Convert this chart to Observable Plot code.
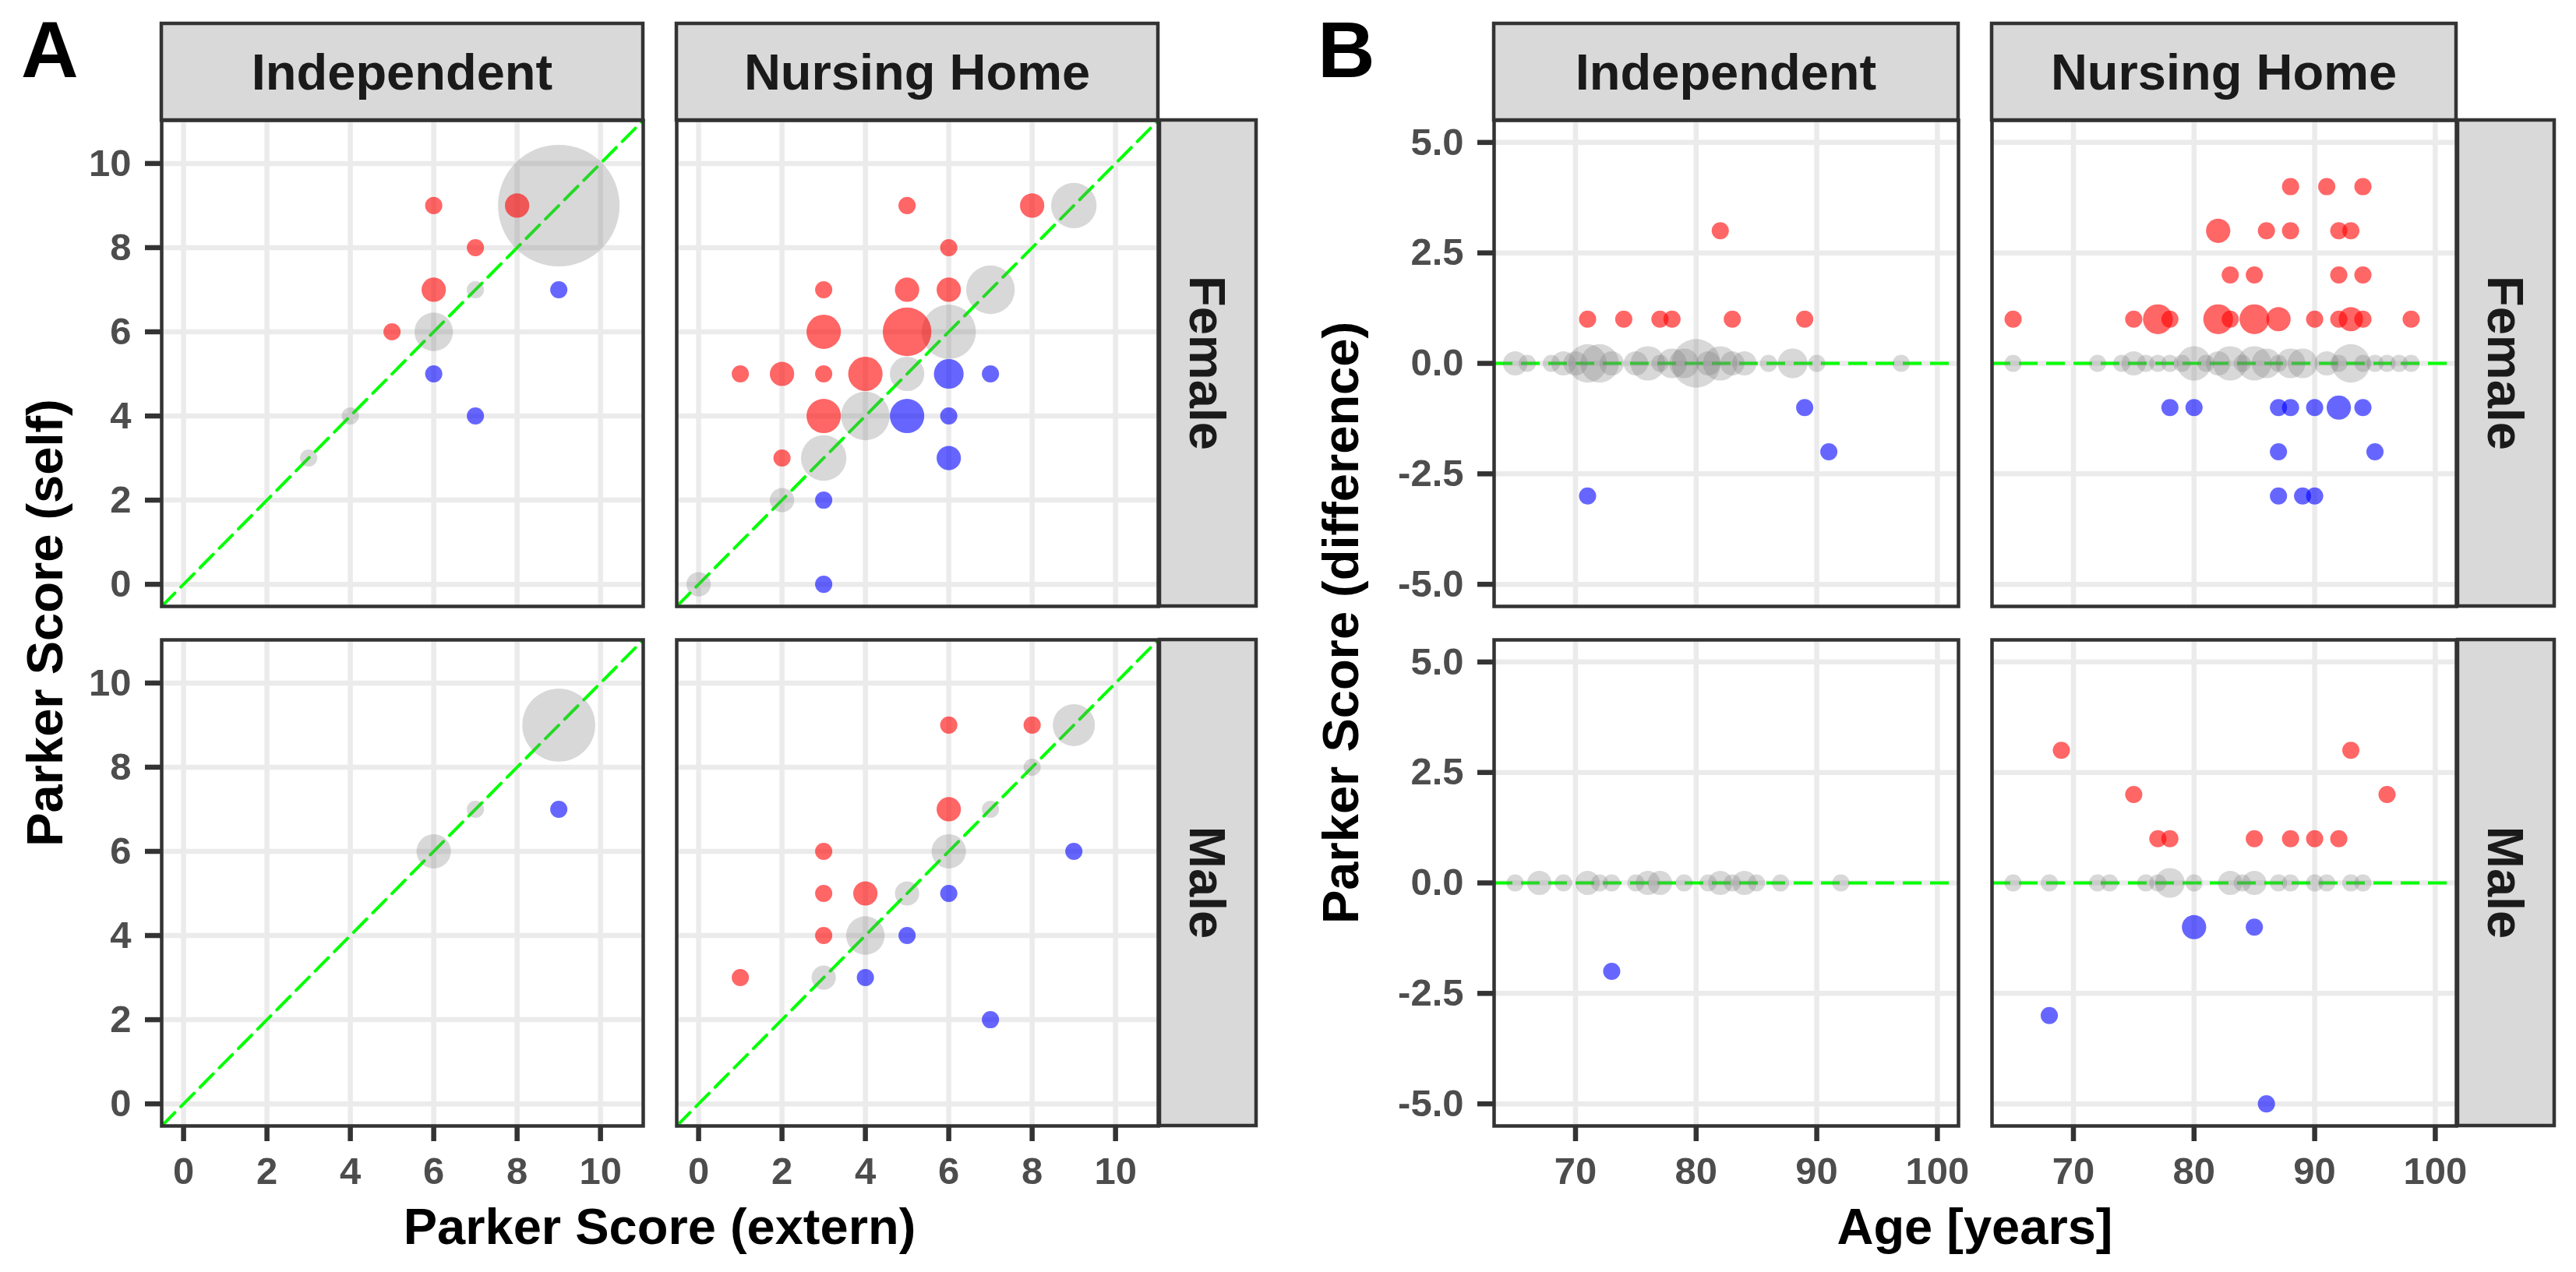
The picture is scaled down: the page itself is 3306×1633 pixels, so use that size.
<!DOCTYPE html>
<html>
<head>
<meta charset="utf-8">
<script src="https://cdn.jsdelivr.net/npm/d3@7"></script>
<script src="https://cdn.jsdelivr.net/npm/@observablehq/plot@0.6"></script>
<style>
  html, body { margin: 0; padding: 0; background: #ffffff; }
  #root { position: relative; width: 3306px; height: 1633px; overflow: hidden; background: #ffffff;
          font-family: "Liberation Sans", Arial, Helvetica, sans-serif; }
  #root svg { position: absolute; }
</style>
</head>
<body>
<div id="root"></div>
<script>
// ---------------- data ----------------
const settings = ["Independent", "Nursing Home"];
const sexes = ["Female", "Male"];
const panelLetters = ["A", "B"];
const titleSelf = "Parker Score (self)";
const titleExtern = "Parker Score (extern)";
const titleDiff = "Parker Score (difference)";
const titleAge = "Age [years]";

const scoreTicks = [0, 2, 4, 6, 8, 10];
const diffTicks = [-5, -2.5, 0, 2.5, 5];
const ageTicks = [70, 80, 90, 100];
const scoreDomain = [-0.525, 11.025];
const diffDomain = [-5.5, 5.5];
const ageDomain = [63.25, 101.75];

// Panel A: [extern score, self score, number of patients]
const aIndependentFemale = [[3,3,1],[4,4,1],[5,6,1],[6,6,5],[6,5,1],[6,7,2],[6,9,1],[7,7,1],[7,8,1],[7,4,1],[8,9,2],[9,9,50],[9,7,1]];
const aNursingFemale = [[0,0,2],[2,2,2],[3,0,1],[3,2,1],[2,3,1],[3,3,7],[3,4,4],[4,4,8],[5,4,4],[6,4,1],[6,3,2],
  [1,5,1],[2,5,2],[3,5,1],[4,5,4],[5,5,4],[6,5,3],[7,5,1],[3,6,4],[5,6,8],[6,6,10],[3,7,1],[5,7,2],[6,7,2],[7,7,8],
  [6,8,1],[5,9,1],[8,9,2],[9,9,7]];
const aIndependentMale = [[6,6,4],[7,7,1],[9,7,1],[9,9,18]];
const aNursingMale = [[1,3,1],[3,3,2],[4,3,1],[3,4,1],[4,4,5],[5,4,1],[3,5,1],[4,5,2],[5,5,2],[6,5,1],[3,6,1],
  [6,6,4],[9,6,1],[6,7,2],[7,7,1],[8,8,1],[6,9,1],[8,9,1],[9,9,6],[7,2,1]];

// Panel B: [age, self - extern, number of patients]
const bIndependentFemale = [[71,1,1],[74,1,1],[77,1,1],[78,1,1],[83,1,1],[89,1,1],[82,3,1],
  [89,-1,1],[91,-2,1],[71,-3,1],
  [65,0,2],[66,0,1],[68,0,1],[69,0,2],[70,0,2],[71,0,5],[72,0,5],[73,0,2],[75,0,2],[76,0,4],[77,0,1],[78,0,3],
  [79,0,3],[80,0,8],[81,0,2],[82,0,4],[83,0,2],[84,0,2],[86,0,1],[88,0,3],[90,0,1],[97,0,1]];
const bNursingFemale = [[88,4,1],[91,4,1],[94,4,1],
  [82,3,2],[86,3,1],[88,3,1],[92,3,1],[93,3,1],
  [83,2,1],[85,2,1],[92,2,1],[94,2,1],
  [65,1,1],[75,1,1],[77,1,3],[78,1,1],[82,1,3],[83,1,1],[85,1,3],[87,1,2],[90,1,1],[92,1,1],[93,1,2],[94,1,1],[98,1,1],
  [65,0,1],[72,0,1],[74,0,1],[75,0,2],[76,0,1],[77,0,1],[78,0,1],[79,0,1],[80,0,4],[81,0,1],[82,0,2],[83,0,4],
  [84,0,1],[85,0,4],[86,0,3],[87,0,1],[88,0,3],[89,0,3],[91,0,2],[92,0,1],[93,0,5],[94,0,1],[95,0,1],[96,0,1],
  [97,0,1],[98,0,1],
  [78,-1,1],[80,-1,1],[87,-1,1],[88,-1,1],[90,-1,1],[92,-1,2],[94,-1,1],
  [87,-2,1],[95,-2,1],
  [87,-3,1],[89,-3,1],[90,-3,1]];
const bIndependentMale = [[65,0,1],[67,0,2],[69,0,1],[71,0,2],[72,0,1],[73,0,1],[75,0,1],[76,0,2],[77,0,2],
  [79,0,1],[81,0,1],[82,0,2],[83,0,1],[84,0,2],[85,0,1],[87,0,1],[92,0,1],
  [73,-2,1]];
const bNursingMale = [[69,3,1],[93,3,1],[75,2,1],[96,2,1],[77,1,1],[78,1,1],[85,1,1],[88,1,1],[90,1,1],[92,1,1],
  [80,-1,2],[85,-1,1],[68,-3,1],[86,-5,1],
  [65,0,1],[68,0,1],[72,0,1],[73,0,1],[76,0,1],[77,0,1],[78,0,3],[80,0,1],[83,0,2],[84,0,1],[85,0,2],[87,0,1],
  [88,0,1],[90,0,1],[91,0,1],[93,0,1],[94,0,1]];

// ---------------- layout & style ----------------
const FONT = '"Liberation Sans", Arial, Helvetica, sans-serif';
const colA = [207, 868], wA = 618;
const colB = [1917, 2556], wB = 596;
const rowY = [154, 821], panelH = 624;
const stripTop = 30, stripH = 124, stripW = 124;
const gridStyle = {stroke: "#EBEBEB", strokeOpacity: 1, strokeWidth: 6.5};
const refStyle = {stroke: "#00FF00", strokeWidth: 4, strokeDasharray: "24,11"};
const tickColor = "#333333", labelColor = "#4D4D4D";

function colorFor(diff) {
  return diff > 0 ? "rgba(255,0,0,0.6)" : diff < 0 ? "rgba(0,0,255,0.6)" : "rgba(127,127,127,0.3)";
}

const root = document.getElementById("root");

function panel({data, kind, left, top, w, showY, showX}) {
  const isA = kind === "A";
  const xDomain = isA ? scoreDomain : ageDomain;
  const yDomain = isA ? scoreDomain : diffDomain;
  const xTicks = isA ? scoreTicks : ageTicks;
  const yTicks = isA ? scoreTicks : diffTicks;
  const yFmt = isA ? (d => String(d)) : (d => d.toFixed(1));
  const diffOf = isA ? (d => d[1] - d[0]) : (d => d[1]);
  const mL = showY ? 120 : 6, mB = showX ? 110 : 6, mT = 6, mR = 6;
  const marks = [
    Plot.gridX(xTicks, gridStyle),
    Plot.gridY(yTicks, gridStyle),
    isA ? Plot.line(scoreDomain, {x: d => d, y: d => d, ...refStyle})
        : Plot.ruleY([0], refStyle),
    Plot.dot(data, {x: d => d[0], y: d => d[1], r: d => d[2], fill: d => colorFor(diffOf(d)), stroke: "none"})
  ];
  if (showY) marks.push(Plot.axisY(yTicks, {tickSize: 21, tickPadding: 18, tickFormat: yFmt,
      stroke: tickColor, strokeWidth: 6.5, fill: labelColor, fontSize: 49, fontWeight: "bold", label: null}));
  if (showX) marks.push(Plot.axisX(xTicks, {anchor: "bottom", tickSize: 20, tickPadding: 20, tickFormat: d => String(d),
      stroke: tickColor, strokeWidth: 6.5, fill: labelColor, fontSize: 49, fontWeight: "bold", label: null}));
  marks.push(Plot.frame({stroke: "#333333", strokeWidth: 4.5}));
  const svg = Plot.plot({
    width: w + mL + mR, height: panelH + mT + mB,
    marginLeft: mL, marginRight: mR, marginTop: mT, marginBottom: mB,
    x: {domain: xDomain, axis: null},
    y: {domain: yDomain, axis: null},
    r: {type: "sqrt", domain: [0, 50], range: [0, 78]},
    color: {type: "identity"},
    style: {background: "transparent", fontFamily: FONT, fontSize: "49px", fontWeight: "bold", overflow: "visible"},
    marks
  });
  svg.style.position = "absolute";
  svg.style.left = (left - mL) + "px";
  svg.style.top = (top - mT) + "px";
  svg.style.maxWidth = "none";
  root.appendChild(svg);
}

const aData = [[aIndependentFemale, aNursingFemale], [aIndependentMale, aNursingMale]];
const bData = [[bIndependentFemale, bNursingFemale], [bIndependentMale, bNursingMale]];
for (let r = 0; r < 2; r++) {
  for (let c = 0; c < 2; c++) {
    panel({data: aData[r][c], kind: "A", left: colA[c], top: rowY[r], w: wA, showY: c === 0, showX: r === 1});
    panel({data: bData[r][c], kind: "B", left: colB[c], top: rowY[r], w: wB, showY: c === 0, showX: r === 1});
  }
}

// ---------------- strips, titles, letters ----------------
const ns = "http://www.w3.org/2000/svg";
const over = document.createElementNS(ns, "svg");
over.setAttribute("width", 3306);
over.setAttribute("height", 1633);
over.style.left = "0px"; over.style.top = "0px";
over.style.fontFamily = FONT;
root.appendChild(over);
function el(tag, attrs, text) {
  const e = document.createElementNS(ns, tag);
  for (const k in attrs) e.setAttribute(k, attrs[k]);
  if (text != null) e.textContent = text;
  over.appendChild(e);
  return e;
}
const stripRect = {fill: "#D9D9D9", stroke: "#333333", "stroke-width": 4.5};
const stripText = {"font-size": 65, "font-weight": "bold", fill: "#1A1A1A", "text-anchor": "middle"};
const groups = [{cols: colA, w: wA}, {cols: colB, w: wB}];
groups.forEach(g => {
  g.cols.forEach((x, c) => {
    el("rect", {x, y: stripTop, width: g.w, height: stripH, ...stripRect});
    el("text", {x: x + g.w / 2, y: stripTop + stripH / 2 + 23, ...stripText}, settings[c]);
  });
  const sx = g.cols[1] + g.w + 2;
  rowY.forEach((y, r) => {
    el("rect", {x: sx, y, width: stripW, height: panelH, ...stripRect});
    el("text", {transform: `translate(${sx + stripW / 2},${y + panelH / 2}) rotate(90)`, y: 23, ...stripText}, sexes[r]);
  });
});
const titleText = {"font-size": 65, "font-weight": "bold", fill: "#000000", "text-anchor": "middle"};
const midY = (rowY[0] + rowY[1] + panelH) / 2;
el("text", {transform: `translate(80,${midY}) rotate(-90)`, ...titleText}, titleSelf);
el("text", {transform: `translate(1743,${midY}) rotate(-90)`, ...titleText}, titleDiff);
el("text", {x: (colA[0] + colA[1] + wA) / 2, y: 1597, ...titleText}, titleExtern);
el("text", {x: (colB[0] + colB[1] + wB) / 2, y: 1597, ...titleText}, titleAge);
el("text", {x: 27, y: 99, "font-size": 102, "font-weight": "bold", fill: "#000000"}, panelLetters[0]);
el("text", {x: 1691, y: 99, "font-size": 102, "font-weight": "bold", fill: "#000000"}, panelLetters[1]);
</script>
</body>
</html>
